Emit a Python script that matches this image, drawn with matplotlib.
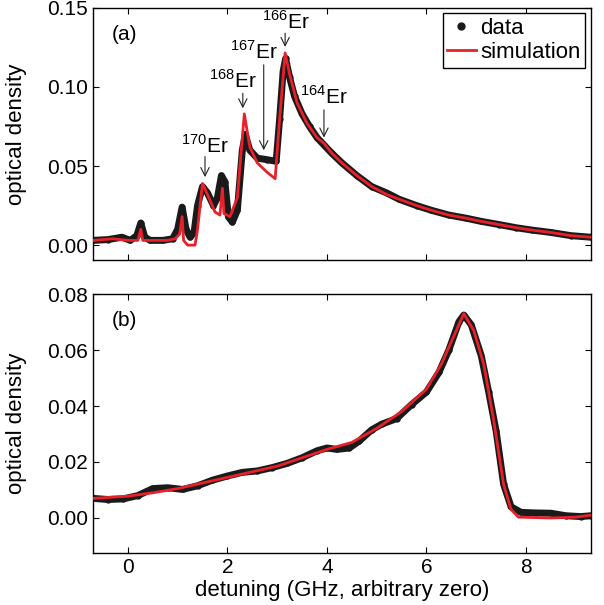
import numpy as np
import matplotlib
matplotlib.use('Agg')
import matplotlib.pyplot as plt
from matplotlib.lines import Line2D
from matplotlib.ticker import FormatStrFormatter

plt.rcParams.update({
    'font.family': ['Liberation Sans', 'DejaVu Sans'],
    'font.size': 15,
    'axes.linewidth': 1.0,
    'xtick.direction': 'in',
    'ytick.direction': 'in',
    'xtick.top': True,
    'ytick.right': True,
    'xtick.major.size': 4,
    'ytick.major.size': 4,
    'mathtext.fontset': 'custom',
    'mathtext.rm': 'Liberation Sans',
})

# panel (a): measured optical density vs detuning
a_data_x = [-0.70, -0.40, -0.12, 0.05, 0.18, 0.26, 0.34, 0.45, 0.70, 0.90, 1.00, 1.09,
            1.17, 1.25, 1.33, 1.40, 1.50, 1.60, 1.72, 1.80, 1.88, 1.95, 2.02, 2.10,
            2.20, 2.30, 2.36, 2.45, 2.60, 2.80, 2.98, 3.05, 3.12, 3.17, 3.25, 3.35,
            3.50, 3.65, 3.80, 3.95, 4.10, 4.30, 4.60, 4.90, 5.20, 5.45, 5.80, 6.10,
            6.45, 6.80, 7.10, 7.46, 7.80, 8.12, 8.50, 8.90, 9.30]
a_data_y = [0.003, 0.0035, 0.005, 0.003, 0.006, 0.014, 0.005, 0.003, 0.003, 0.004, 0.010, 0.024,
            0.010, 0.005, 0.008, 0.025, 0.037, 0.033, 0.025, 0.030, 0.044, 0.040, 0.018, 0.0145,
            0.022, 0.060, 0.070, 0.060, 0.055, 0.054, 0.053, 0.080, 0.110, 0.118, 0.106, 0.094,
            0.083, 0.075, 0.068, 0.063, 0.058, 0.052, 0.044, 0.037, 0.033, 0.029, 0.025, 0.022,
            0.019, 0.017, 0.015, 0.013, 0.011, 0.0095, 0.008, 0.006, 0.005]

a_sim_x = [-0.70, -0.30, 0.00, 0.20, 0.26, 0.30, 0.50, 0.80, 0.95, 1.04, 1.09, 1.12,
           1.20, 1.35, 1.40, 1.50, 1.60, 1.75, 1.85, 1.90, 1.93, 2.05, 2.20, 2.34,
           2.45, 2.60, 2.80, 2.96, 3.05, 3.16, 3.25, 3.40, 3.60, 3.80, 3.95, 4.10,
           4.30, 4.60, 4.90, 5.20, 5.45, 5.80, 6.10, 6.45, 6.80, 7.10, 7.46, 7.80,
           8.12, 8.50, 8.90, 9.30]
a_sim_y = [0.003, 0.004, 0.003, 0.003, 0.010, 0.003, 0.003, 0.003, 0.004, 0.007, 0.018, 0.003,
           0.000, 0.000, 0.010, 0.039, 0.032, 0.021, 0.019, 0.036, 0.020, 0.018, 0.030, 0.083,
           0.062, 0.052, 0.046, 0.042, 0.080, 0.1215, 0.108, 0.090, 0.077, 0.068, 0.064, 0.058,
           0.052, 0.044, 0.037, 0.032, 0.029, 0.025, 0.022, 0.019, 0.017, 0.015, 0.013, 0.011,
           0.0095, 0.008, 0.006, 0.005]

# isotope labels: mass, arrow x, arrow tip y, arrow tail y, label centre x, label baseline y
iso_names = ['170', '168', '167', '166', '164']
iso_x = [1.55, 2.31, 2.73, 3.16, 3.94]
iso_tip = [0.043, 0.0865, 0.060, 0.1253, 0.068]
iso_tail = [0.056, 0.096, 0.114, 0.134, 0.0855]
iso_lx = [1.55, 2.11, 2.54, 3.17, 3.94]
iso_ly = [0.0582, 0.0994, 0.118, 0.1367, 0.0892]

# panel (b)
b_data_x = [-0.70, -0.40, -0.10, 0.20, 0.50, 0.80, 1.10, 1.40, 1.70, 2.00, 2.30, 2.60,
            2.90, 3.20, 3.50, 3.80, 4.00, 4.20, 4.45, 4.65, 4.90, 5.10, 5.40, 5.70,
            6.00, 6.25, 6.45, 6.65, 6.75, 6.90, 7.10, 7.25, 7.40, 7.55, 7.70, 7.90,
            8.20, 8.50, 8.80, 9.10, 9.30]
b_data_y = [0.0070, 0.0066, 0.0068, 0.0080, 0.0105, 0.0108, 0.0102, 0.0115, 0.0135, 0.0150, 0.0163, 0.0168,
            0.0180, 0.0195, 0.0215, 0.0240, 0.0250, 0.0245, 0.0250, 0.0275, 0.0315, 0.0335, 0.0355, 0.0405,
            0.0450, 0.0520, 0.0600, 0.0700, 0.0725, 0.0690, 0.0580, 0.0450, 0.0310, 0.0120, 0.0040, 0.0020,
            0.0018, 0.0017, 0.0008, 0.0005, 0.0008]

b_sim_x = [-0.70, 0.00, 0.50, 1.00, 1.50, 2.00, 2.50, 3.00, 3.50, 4.00, 4.50, 5.00,
           5.50, 6.00, 6.30, 6.55, 6.75, 6.95, 7.15, 7.35, 7.55, 7.70, 7.85, 8.50,
           9.00, 9.30]
b_sim_y = [0.0070, 0.0078, 0.0090, 0.0105, 0.0125, 0.0145, 0.0165, 0.0185, 0.0215, 0.0245, 0.0270, 0.0320,
           0.0380, 0.0460, 0.0550, 0.0650, 0.0730, 0.0670, 0.0550, 0.0350, 0.0120, 0.0030, 0.0003, 0.0000,
           0.0003, 0.0010]

fig = plt.figure(figsize=(6.04, 6.05), dpi=100)
ax1 = fig.add_axes([0.154, 0.570, 0.824, 0.417])
ax2 = fig.add_axes([0.154, 0.086, 0.824, 0.428])

for ax, dx, dy, sx, sy in [(ax1, a_data_x, a_data_y, a_sim_x, a_sim_y),
                           (ax2, b_data_x, b_data_y, b_sim_x, b_sim_y)]:
    ax.plot(dx, dy, color='#1a1a1a', lw=5, marker='o', ms=3.5, solid_capstyle='round', zorder=2)
    ax.plot(sx, sy, color='#e8202a', lw=2.0, zorder=3)
    ax.set_xlim(-0.7, 9.3)
    ax.set_xticks([0, 2, 4, 6, 8])
    ax.set_ylabel('optical density', fontsize=16)
    ax.yaxis.set_label_coords(-0.133, 0.5)
    ax.yaxis.set_major_formatter(FormatStrFormatter('%.2f'))
    ax.tick_params(labelsize=15)

ax1.set_ylim(-0.0095, 0.15)
ax1.set_yticks([0, 0.05, 0.10, 0.15])
ax1.set_xticklabels([])
ax2.set_ylim(-0.0125, 0.08)
ax2.set_yticks([0, 0.02, 0.04, 0.06, 0.08])
ax2.set_xlabel('detuning (GHz, arbitrary zero)', fontsize=16, labelpad=2)

ax1.text(0.037, 0.893, '(a)', transform=ax1.transAxes, fontsize=15, va='center')
ax2.text(0.037, 0.896, '(b)', transform=ax2.transAxes, fontsize=15, va='center')

for name, x, tip, tail, lx, ly in zip(iso_names, iso_x, iso_tip, iso_tail, iso_lx, iso_ly):
    ax1.annotate('', xy=(x, tip), xytext=(x, tail),
                 arrowprops=dict(arrowstyle='->', lw=0.8, color='#222222', shrinkA=0, shrinkB=0))
    ax1.text(lx, ly, r'$^{\mathregular{%s}}$Er' % name, ha='center', va='baseline', fontsize=15)

handles = [Line2D([], [], color='#1a1a1a', marker='o', ls='none', ms=5),
           Line2D([], [], color='#e8202a', lw=2.0)]
leg = ax1.legend(handles, ['data', 'simulation'], loc='upper right', fontsize=16,
                 fancybox=False, edgecolor='black', framealpha=1,
                 borderaxespad=0.25, handlelength=1.3, handletextpad=0.2,
                 borderpad=0.2, labelspacing=0.15)
leg.get_frame().set_linewidth(1.0)

fig.savefig('out.png', dpi=100)
